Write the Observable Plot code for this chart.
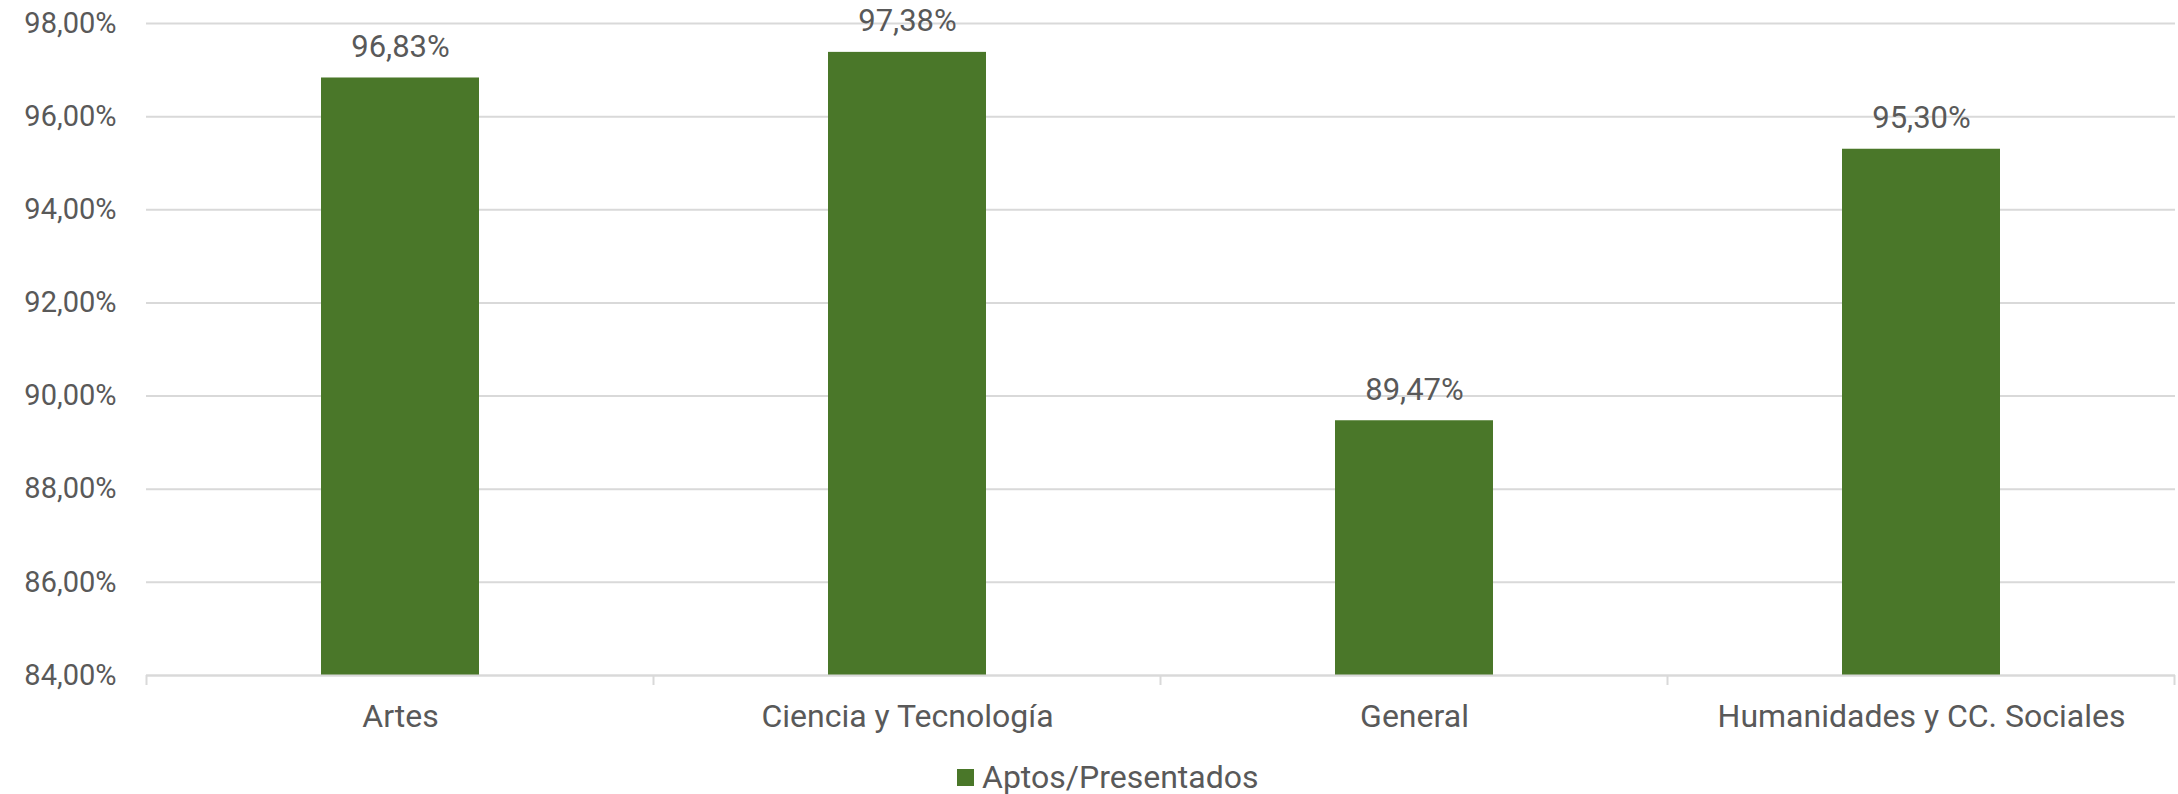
<!DOCTYPE html>
<html>
<head>
<meta charset="utf-8">
<script src="https://cdn.jsdelivr.net/npm/d3@7"></script>
<script src="https://cdn.jsdelivr.net/npm/@observablehq/plot@0.6"></script>
<style>
  html, body { margin: 0; padding: 0; background: #fff; }
  body { width: 2178px; height: 794px; overflow: hidden; font-family: Roboto, sans-serif; }
  #legend { position: relative; height: 42px; font-family: Roboto, sans-serif; font-size: 32px; color: #595959; }
  #legend .item { position: absolute; left: 957px; top: 4px; height: 42px; display: flex; align-items: center; }
  #legend .sw { width: 17px; height: 17px; background: #4a7729; margin-right: 8px; }
</style>
</head>
<body>
<div id="chart"></div>
<div id="legend"></div>
<script>
const categories = ["Artes", "Ciencia y Tecnología", "General", "Humanidades y CC. Sociales"];
const values = [96.83, 97.38, 89.47, 95.30];
const yTicks = [84, 86, 88, 90, 92, 94, 96, 98];
const seriesName = "Aptos/Presentados";
const barColor = "#4a7729";
const textColor = "#595959";
const gridColor = "#d9d9d9";

const data = categories.map((c, i) => ({category: c, value: values[i]}));
const fmt = d => d.toFixed(2).replace(".", ",") + "%";

// category-boundary tick marks under the x axis
function boundaryTicks() {
  return (index, scales, values, dims) => {
    const x = scales.x;
    const ns = "http://www.w3.org/2000/svg";
    const g = document.createElementNS(ns, "g");
    const domain = categories;
    const bw = x.bandwidth ? x.bandwidth() : 0;
    const step = x.step ? x.step() : (dims.width - dims.marginLeft - dims.marginRight) / domain.length;
    const y0 = dims.height - dims.marginBottom;
    const xs = domain.map(c => x(c) + bw / 2 - step / 2);
    xs.push(x(domain[domain.length - 1]) + bw / 2 + step / 2);
    for (const xv of xs) {
      const l = document.createElementNS(ns, "line");
      l.setAttribute("x1", xv); l.setAttribute("x2", xv);
      l.setAttribute("y1", y0); l.setAttribute("y2", y0 + 10);
      l.setAttribute("stroke", gridColor);
      l.setAttribute("stroke-width", 2);
      g.appendChild(l);
    }
    return g;
  };
}

const chart = Plot.plot({
  width: 2178,
  height: 752,
  marginLeft: 146,
  marginRight: 3,
  marginTop: 23,
  marginBottom: 77,
  style: {fontFamily: "Roboto, sans-serif", fontSize: "29px", color: textColor, background: "#fff"},
  x: {domain: categories, paddingInner: 0.688, paddingOuter: 0.344, label: null},
  y: {domain: [84, 98], label: null},
  marks: [
    Plot.gridY(yTicks, {stroke: gridColor, strokeOpacity: 1, strokeWidth: 2}),
    Plot.barY(data, {x: "category", y1: 84, y2: "value", fill: barColor}),
    Plot.ruleY([84], {stroke: gridColor, strokeWidth: 2}),
    boundaryTicks(),
    Plot.text(data, {x: "category", y: "value", text: d => fmt(d.value), dy: -31, fill: textColor, fontSize: 31}),
    Plot.axisY(yTicks, {tickFormat: fmt, tickSize: 0, tickPadding: 30, fill: textColor, fontSize: 29, label: null}),
    Plot.axisX({tickSize: 0, tickPadding: 29, fill: textColor, fontSize: 32, label: null})
  ]
});
document.getElementById("chart").appendChild(chart);

const legend = document.getElementById("legend");
legend.innerHTML = `<div class="item"><div class="sw"></div><span>${seriesName}</span></div>`;
</script>
</body>
</html>
